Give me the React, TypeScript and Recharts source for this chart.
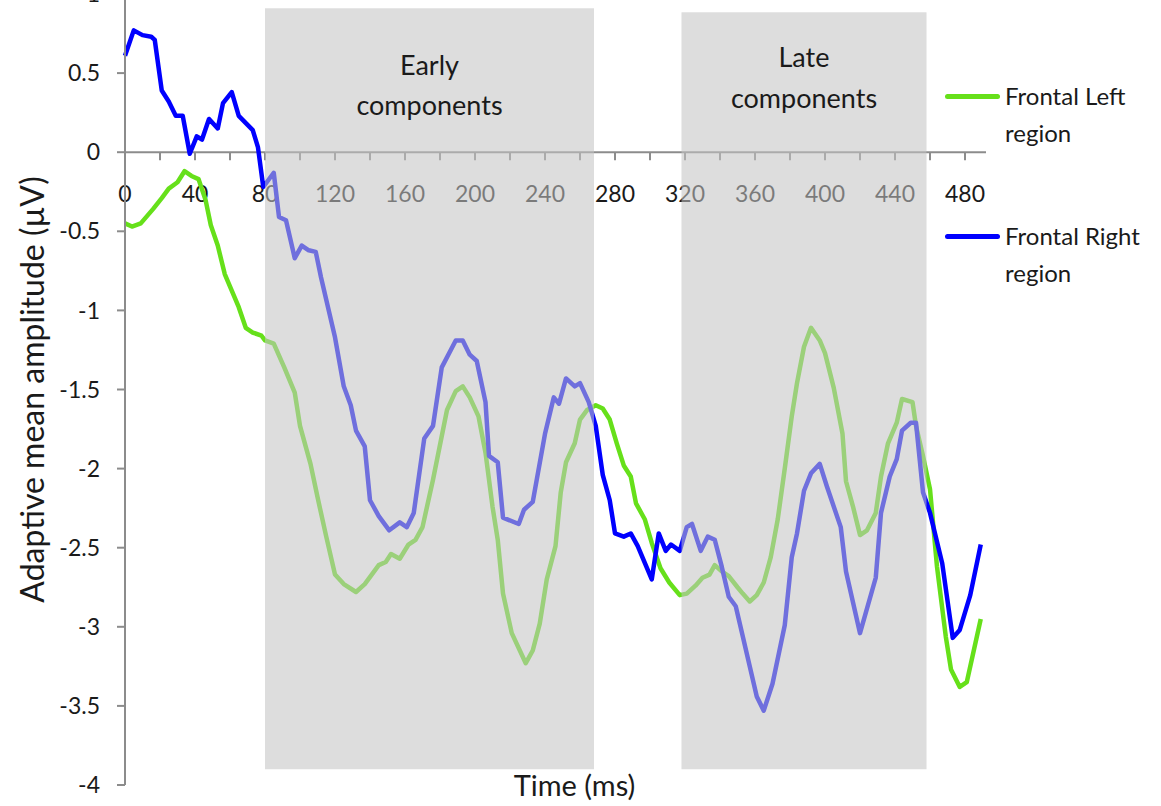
import React from 'react';
import {
  LineChart,
  Line,
  XAxis,
  YAxis,
  ReferenceArea,
  ReferenceLine,
  ReferenceDot,
  Legend,
} from 'recharts';

// ---- data (time in ms, amplitude in µV) ----
const leftTimes = [
  0, 4, 9, 16, 21, 25, 30, 34, 38, 42, 46, 49, 53, 57, 65, 69, 73, 78, 80, 85,
  91, 97, 100, 106, 110, 115, 120, 125, 132, 137, 145, 149, 152, 157, 162, 166,
  170, 176, 184, 189, 193, 197, 202, 206, 210, 213, 216, 221, 229, 233, 237, 241,
  246, 249, 252, 257, 260, 264, 269, 273, 277, 281, 285, 289, 292, 297, 301, 306,
  311, 317, 321, 326, 330, 334, 337, 341, 345, 350, 353, 357, 361, 365, 369, 373,
  377, 381, 384, 388, 392, 397, 400, 405, 410, 412, 416, 420, 424, 429, 432, 436,
  441, 444, 450, 452, 456, 460, 464, 469, 472, 477, 481, 489,
];
const leftValues = [
  -0.45, -0.47, -0.45, -0.36, -0.29, -0.23, -0.19, -0.12, -0.15, -0.17, -0.3, -0.46,
  -0.59, -0.77, -0.98, -1.11, -1.14, -1.16, -1.19, -1.21, -1.36, -1.52, -1.73, -1.97,
  -2.18, -2.43, -2.67, -2.73, -2.78, -2.73, -2.61, -2.59, -2.54, -2.57, -2.48, -2.45,
  -2.37, -2.07, -1.63, -1.51, -1.48, -1.55, -1.67, -1.9, -2.24, -2.45, -2.79, -3.04,
  -3.23, -3.15, -2.98, -2.7, -2.49, -2.15, -1.96, -1.84, -1.69, -1.63, -1.6, -1.62,
  -1.69, -1.84, -1.98, -2.05, -2.22, -2.32, -2.47, -2.63, -2.72, -2.8, -2.79, -2.74,
  -2.69, -2.67, -2.61, -2.65, -2.68, -2.75, -2.79, -2.84, -2.8, -2.72, -2.56, -2.32,
  -2.0, -1.67, -1.46, -1.23, -1.11, -1.19, -1.27, -1.49, -1.78, -2.08, -2.24, -2.42,
  -2.39, -2.28, -2.05, -1.84, -1.71, -1.56, -1.58, -1.73, -1.92, -2.13, -2.62, -3.06,
  -3.27, -3.38, -3.35, -2.95,
];

const rightTimes = [
  0, 5, 10, 15, 17, 21, 25, 29, 33, 37, 41, 44, 48, 53, 56, 61, 65, 73, 76, 79,
  85, 88, 92, 97, 101, 105, 109, 112, 120, 125, 129, 132, 137, 140, 145, 151, 157,
  161, 165, 171, 176, 181, 189, 193, 197, 201, 206, 208, 213, 216, 225, 228, 233,
  240, 245, 248, 252, 257, 260, 265, 269, 273, 277, 280, 285, 289, 293, 301, 305,
  309, 312, 317, 321, 324, 329, 333, 337, 341, 345, 349, 353, 361, 365, 370, 377,
  381, 384, 388, 392, 397, 401, 409, 412, 420, 429, 432, 437, 441, 444, 449, 452,
  456, 460, 467, 473, 477, 483, 489,
];
const rightValues = [
  0.61, 0.77, 0.74, 0.73, 0.71, 0.39, 0.32, 0.23, 0.23, -0.01, 0.1, 0.08, 0.21, 0.15,
  0.31, 0.38, 0.23, 0.14, 0.03, -0.22, -0.13, -0.41, -0.43, -0.67, -0.59, -0.62, -0.63,
  -0.79, -1.17, -1.48, -1.6, -1.76, -1.86, -2.2, -2.3, -2.39, -2.34, -2.37, -2.28,
  -1.81, -1.73, -1.36, -1.19, -1.19, -1.28, -1.32, -1.58, -1.92, -1.96, -2.31, -2.35,
  -2.26, -2.21, -1.78, -1.55, -1.59, -1.43, -1.48, -1.46, -1.58, -1.73, -2.04, -2.2,
  -2.41, -2.43, -2.41, -2.49, -2.7, -2.41, -2.52, -2.48, -2.52, -2.37, -2.35, -2.52,
  -2.43, -2.45, -2.62, -2.81, -2.87, -3.06, -3.44, -3.53, -3.36, -2.99, -2.56, -2.41,
  -2.14, -2.03, -1.97, -2.11, -2.37, -2.65, -3.04, -2.69, -2.28, -2.05, -1.94, -1.76,
  -1.71, -1.71, -2.15, -2.28, -2.6, -3.07, -3.02, -2.8, -2.48,
];

const xTicks = [
  0, 20, 40, 60, 80, 100, 120, 140, 160, 180, 200, 220, 240, 260, 280, 300, 320,
  340, 360, 380, 400, 420, 440, 460, 480,
];
const yTicks = [-4, -3.5, -3, -2.5, -2, -1.5, -1, -0.5, 0, 0.5, 1];

const seriesNames = ['Frontal Left region', 'Frontal Right region'];
const legendLines = [
  ['Frontal Left', 'region'],
  ['Frontal Right', 'region'],
];
const earlyLines = ['Early', 'components'];
const lateLines = ['Late', 'components'];
const earlyWindow = [80, 268];
const lateWindow = [318, 458];

const GREEN = '#66E01A';
const BLUE = '#0000FF';
const AXIS = '#8c8c8c';
const FONT = 'Lato, "Open Sans", sans-serif';

const leftData = leftTimes.map((t, i) => ({ t, v: leftValues[i] }));
const rightData = rightTimes.map((t, i) => ({ t, v: rightValues[i] }));

const xTickShape = (value: number) => (p: any) => {
  const cx = p.cx;
  const cy = p.cy;
  return (
    <g>
      <line x1={cx} y1={cy} x2={cx} y2={cy + 8} stroke={AXIS} strokeWidth={2} />
      {value % 40 === 0 ? (
        <text
          x={cx}
          y={cy + 50}
          textAnchor="middle"
          fill="#1a1a1a"
          style={{ fontFamily: FONT, fontSize: 23 }}
        >
          {String(value)}
        </text>
      ) : null}
    </g>
  );
};

const areaLabel = (lines: string[], offsets: number[]) => (props: any) => {
  const vb = props.viewBox || {};
  const cx = vb.x + vb.width / 2;
  return (
    <text
      textAnchor="middle"
      fill="#1a1a1a"
      style={{ fontFamily: FONT, fontSize: 27 }}
    >
      {lines.map((l, i) => (
        <tspan key={i} x={cx} y={vb.y + offsets[i]}>
          {l}
        </tspan>
      ))}
    </text>
  );
};

const renderLegend = () => (
  <div
    style={{
      fontFamily: FONT,
      fontSize: 24,
      lineHeight: '37px',
      color: '#1a1a1a',
    }}
  >
    {legendLines.map((lines, i) => (
      <div
        key={i}
        style={{ display: 'flex', alignItems: 'flex-start', marginTop: i ? 66 : 0 }}
      >
        <div
          style={{
            width: 55,
            height: 5,
            borderRadius: 3,
            background: i === 0 ? GREEN : BLUE,
            marginTop: 17,
            marginRight: 5,
            flex: 'none',
          }}
        />
        <div style={{ whiteSpace: 'nowrap' }}>
          {lines[0]}
          <br />
          {lines[1]}
        </div>
      </div>
    ))}
  </div>
);

export default function App() {
  return (
    <div style={{ position: 'absolute', left: 0, top: -30 }}>
      <LineChart
        width={1161}
        height={836}
        margin={{ top: 24, right: 175, bottom: 19, left: 0 }}
      >
        <XAxis
          dataKey="t"
          type="number"
          domain={[0, 492]}
          ticks={xTicks}
          height={2}
          axisLine={false}
          tickLine={false}
          tick={false}
          allowDuplicatedCategory={false}
          label={{
            value: 'Time (ms)',
            position: 'center',
            dx: 19,
            style: { fontFamily: FONT, fontSize: 29, fill: '#1a1a1a' },
          }}
        />
        <YAxis
          type="number"
          domain={[-4, 1]}
          ticks={yTicks}
          width={125}
          axisLine={{ stroke: AXIS, strokeWidth: 2 }}
          tickLine={{ stroke: AXIS, strokeWidth: 2 }}
          tickSize={8}
          tickMargin={17}
          tick={{ fontFamily: FONT, fontSize: 23, fill: '#1a1a1a' }}
          interval={0}
          label={{
            value: 'Adaptive mean amplitude (µV)',
            angle: -90,
            position: 'center',
            dx: -30,
            style: { fontFamily: FONT, fontSize: 32, fill: '#1a1a1a' },
          }}
        />
        <ReferenceLine y={0} stroke={AXIS} strokeWidth={2} zIndex={100} />
        {xTicks.map((t) => (
          <ReferenceDot
            key={t}
            x={t}
            y={0}
            zIndex={110}
            shape={xTickShape(t)}
          />
        ))}
        <Line
          data={leftData}
          dataKey="v"
          name={seriesNames[0]}
          type="linear"
          stroke={GREEN}
          strokeWidth={4.5}
          strokeLinejoin="round"
          dot={false}
          activeDot={false}
          isAnimationActive={false}
        />
        <Line
          data={rightData}
          dataKey="v"
          name={seriesNames[1]}
          type="linear"
          stroke={BLUE}
          strokeWidth={4.5}
          strokeLinejoin="round"
          dot={false}
          activeDot={false}
          isAnimationActive={false}
        />
        <ReferenceArea
          x1={earlyWindow[0]}
          x2={earlyWindow[1]}
          y1={-3.9}
          y2={0.91}
          fill="#C3C3C3"
          fillOpacity={0.57}
          stroke="none"
          zIndex={1500}
          label={areaLabel(earlyLines, [67, 107])}
        />
        <ReferenceArea
          x1={lateWindow[0]}
          x2={lateWindow[1]}
          y1={-3.9}
          y2={0.885}
          fill="#C3C3C3"
          fillOpacity={0.57}
          stroke="none"
          zIndex={1500}
          label={areaLabel(lateLines, [55, 96])}
        />
        <Legend
          layout="horizontal"
          verticalAlign="middle"
          align="center"
          content={renderLegend}
          wrapperStyle={{ position: 'absolute', left: 945, top: 107, width: 216 }}
        />
      </LineChart>
    </div>
  );
}
